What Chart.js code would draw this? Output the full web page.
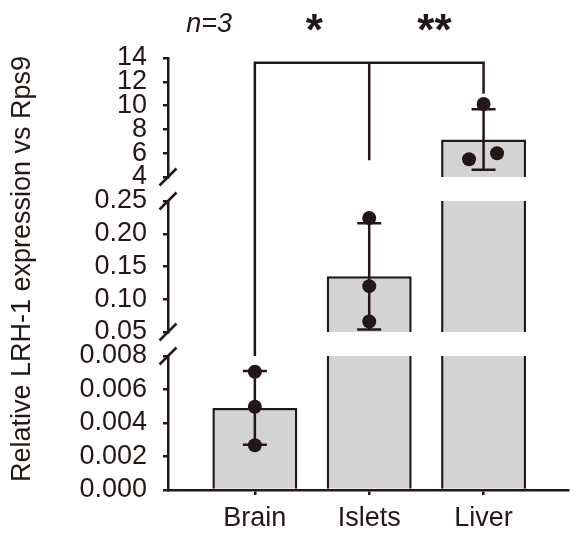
<!DOCTYPE html>
<html>
<head>
<meta charset="utf-8">
<script src="https://cdn.jsdelivr.net/npm/chart.js@4.4.1/dist/chart.umd.min.js"></script>
<style>
  html, body { margin: 0; padding: 0; background: #ffffff; }
  canvas { display: block; }
</style>
</head>
<body>
<canvas id="chart" width="583" height="536"></canvas>
<script>
// values
const categories = ['Brain', 'Islets', 'Liver'];
const means = [0.0049, 0.135, 7.15];
const sds = [0.0022, 0.081, 2.55];
const replicates = [
    [0.00706, 0.00497, 0.00267],
    [0.224, 0.120, 0.066],
    [10.13, 5.49, 5.99]
];
const jitter = [
    [0, 0, 0],
    [0, 0, 0],
    [0, -0.127, 0.118]
];
const topTicks = [4, 6, 8, 10, 12, 14];
const midTicks = [0.05, 0.10, 0.15, 0.20, 0.25];
const botTicks = [0, 0.002, 0.004, 0.006, 0.008];
const yTitle = 'Relative LRH-1 expression vs Rps9';
const sigLabels = ['n=3', '*', '**'];
const sigX = [-0.4, 0.52, 1.57];
const sigY = 17;
const bracketTop = 13.6;
const bracketLegs = [0.008, 5.4, 11.0];

const dark = '#231815';
const family = "'Liberation Sans', Arial, Helvetica, sans-serif";

// the three pieces of the broken y axis
const segments = [
    { id: 'yTop', ticks: topTicks, digits: 0 },
    { id: 'yMid', ticks: midTicks, digits: 2 },
    { id: 'yBot', ticks: botTicks, digits: 3 }
];
const lo = s => s.ticks[0];
const hi = s => s.ticks[s.ticks.length - 1];

function axisFor(v) {
    const seg = segments.find(s => v >= lo(s) && v <= hi(s));
    return seg ? seg.id : 'yTop';
}

const datasets = [];

// dots
segments.forEach(seg => {
    const pts = [];
    replicates.forEach((vals, i) => {
        vals.forEach((v, k) => {
            if (axisFor(v) === seg.id) pts.push({ x: i + jitter[i][k], y: v });
        });
    });
    if (pts.length) {
        datasets.push({
            type: 'scatter',
            yAxisID: seg.id,
            data: pts,
            pointRadius: 7,
            pointBackgroundColor: dark,
            pointBorderWidth: 0,
            order: 0
        });
    }
});

// error bars (mean +/- SD), caps drawn as line-style points
means.forEach((m, i) => {
    datasets.push({
        type: 'line',
        yAxisID: axisFor(m),
        data: [{ x: i, y: m - sds[i] }, { x: i, y: m + sds[i] }],
        borderColor: dark,
        borderWidth: 2.5,
        pointStyle: 'line',
        pointRadius: 12,
        pointBorderColor: dark,
        pointBorderWidth: 2.5,
        fill: false,
        order: 1
    });
});

// bars, cut into the three axis pieces
segments.forEach(seg => {
    const data = [];
    const widths = [];
    means.forEach((m, i) => {
        if (m <= lo(seg)) return;
        const cut = m > hi(seg);
        data.push({ x: i, y: [lo(seg), Math.min(m, hi(seg))] });
        widths.push(cut ? { top: 0, left: 2.5, right: 2.5, bottom: 0 }
                        : { top: 2.5, left: 2.5, right: 2.5, bottom: 0 });
    });
    datasets.push({
        type: 'bar',
        yAxisID: seg.id,
        data: data,
        backgroundColor: '#d4d4d4',
        borderColor: dark,
        borderWidth: c => widths[c.dataIndex],
        borderSkipped: false,
        grouped: false,
        categoryPercentage: 1,
        barPercentage: 0.743,
        order: 2
    });
});

function yAxis(seg, stackWeight, weight) {
    return {
        type: 'linear',
        position: 'left',
        stack: 'y',
        stackWeight: stackWeight,
        weight: weight,
        min: lo(seg),
        max: hi(seg),
        border: { color: dark, width: 2.5 },
        grid: { drawOnChartArea: false, drawTicks: true, tickLength: 5, color: dark, lineWidth: 2.5 },
        ticks: {
            color: dark,
            font: { family: family, size: 27 },
            padding: 16,
            autoSkip: false,
            callback: v => Number(v).toFixed(seg.digits)
        },
        afterBuildTicks: s => { s.ticks = seg.ticks.map(v => ({ value: v })); },
        afterFit: s => { s.width = 89; }
    };
}

const spacer = (stackWeight, weight) => ({
    type: 'linear', position: 'left', stack: 'y',
    stackWeight: stackWeight, weight: weight, display: false
});

function centerText(ctx, str, x, y) {
    ctx.textAlign = 'center';
    ctx.textBaseline = 'alphabetic';
    const m = ctx.measureText(str);
    ctx.fillText(str, x, y + (m.actualBoundingBoxAscent - m.actualBoundingBoxDescent) / 2);
}

const decor = {
    id: 'decor',
    afterDraw(chart) {
        const { ctx, chartArea, scales } = chart;
        const x0 = chartArea.left;
        ctx.save();
        ctx.strokeStyle = dark;
        ctx.fillStyle = dark;
        ctx.lineWidth = 2.5;

        // axis break marks
        [scales.yTop.bottom, scales.yMid.top, scales.yMid.bottom, scales.yBot.top].forEach(y => {
            ctx.beginPath();
            ctx.moveTo(x0 - 8.5, y + 8.5);
            ctx.lineTo(x0 + 8.5, y - 8.5);
            ctx.stroke();
        });

        // significance bracket
        const yb = scales.yTop.getPixelForValue(bracketTop);
        const px = categories.map((c, i) => scales.x.getPixelForValue(i));
        const legEnd = i => scales[axisFor(bracketLegs[i])].getPixelForValue(bracketLegs[i]);
        ctx.lineJoin = 'miter';
        ctx.beginPath();
        ctx.moveTo(px[0], legEnd(0));
        ctx.lineTo(px[0], yb);
        ctx.lineTo(px[2], yb);
        ctx.lineTo(px[2], legEnd(2));
        ctx.moveTo(px[1], yb);
        ctx.lineTo(px[1], legEnd(1));
        ctx.stroke();

        // n=3, *, **
        const ty = scales.yTop.getPixelForValue(sigY);
        sigLabels.forEach((t, i) => {
            ctx.font = i === 0 ? `italic 27px ${family}` : `bold 44px ${family}`;
            centerText(ctx, t, scales.x.getPixelForValue(sigX[i]), ty);
        });

        // y axis title
        ctx.font = `27px ${family}`;
        ctx.translate(30, 269);
        ctx.rotate(-Math.PI / 2);
        ctx.textAlign = 'center';
        ctx.textBaseline = 'alphabetic';
        ctx.fillText(yTitle, 0, 0);
        ctx.restore();
    }
};

new Chart(document.getElementById('chart'), {
    type: 'bar',
    data: { datasets: datasets },
    options: {
        responsive: false,
        animation: false,
        events: [],
        layout: { padding: { left: 79, top: 58, right: 0, bottom: 0 } },
        plugins: { legend: { display: false }, tooltip: { enabled: false } },
        scales: {
            x: {
                type: 'linear',
                min: -0.7595,
                max: 2.7426,
                offset: false,
                z: 1,
                border: { color: dark, width: 2.5 },
                grid: { offset: false, drawOnChartArea: false, drawTicks: true, tickLength: 5, color: dark, lineWidth: 2.5 },
                ticks: {
                    color: dark,
                    font: { family: family, size: 27 },
                    padding: 7,
                    autoSkip: false,
                    maxRotation: 0,
                    callback: v => categories[v]
                },
                afterBuildTicks: s => { s.ticks = categories.map((c, i) => ({ value: i })); },
                afterFit: s => { s.height = 46; }
            },
            yTop: yAxis(segments[0], 119, 5),
            gap1: spacer(24, 4),
            yMid: yAxis(segments[1], 131, 3),
            gap2: spacer(24, 2),
            yBot: yAxis(segments[2], 134, 1)
        }
    },
    plugins: [decor]
});
</script>
</body>
</html>
